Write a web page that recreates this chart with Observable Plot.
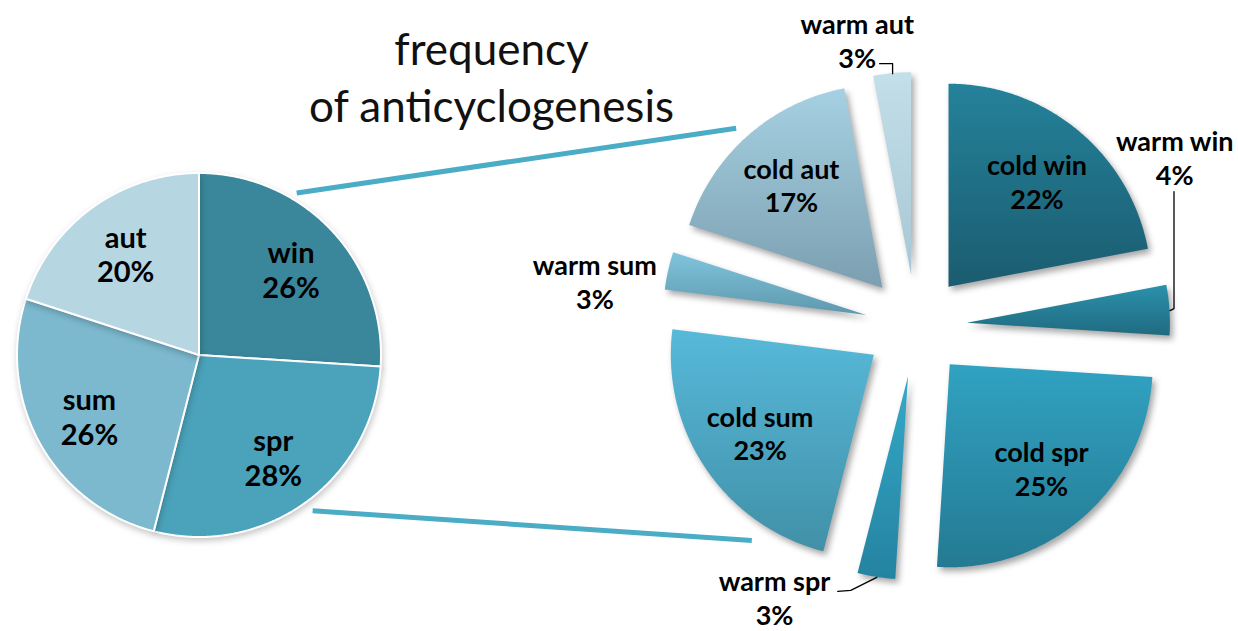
<!DOCTYPE html>
<html>
<head>
<meta charset="utf-8">
<script src="https://cdn.jsdelivr.net/npm/d3@7"></script>
<script src="https://cdn.jsdelivr.net/npm/@observablehq/plot@0.6"></script>
<style>
  body { margin: 0; background: #fff; }
  g[aria-description="season slice"] { filter: drop-shadow(1px 3px 3px rgba(0,0,0,0.22)); }
  g[aria-description="exploded slice"] { filter: drop-shadow(3px 4px 3px rgba(0,0,0,0.35)); }
</style>
</head>
<body>
<div id="chart"></div>
<script>
// ---------------- data ----------------
const seasons = ["win", "spr", "sum", "aut"];
const seasonShare = [26, 28, 26, 20];
const subCategories = ["cold win", "warm win", "cold spr", "warm spr", "cold sum", "warm sum", "cold aut", "warm aut"];
const subShare = [22, 4, 25, 3, 23, 3, 17, 3];
const titleLines = ["frequency", "of anticyclogenesis"];

// ---------------- styles / layout ----------------
const W = 1238, H = 631;
const FONT = "Lato, 'Open Sans', sans-serif";
const seasonColors = {win: "#3a879b", spr: "#4aa3bb", sum: "#7cb9cf", aut: "#b6d6e2"};
const subGradients = {
  "cold win": ["#24829a", "#1b5c70"],
  "warm win": ["#2b91ab", "#1f6b80"],
  "cold spr": ["#31a2c2", "#247a92"],
  "warm spr": ["#35a9c9", "#2483a0"],
  "cold sum": ["#57b9d9", "#4190a8"],
  "warm sum": ["#80c5dd", "#5e98ad"],
  "cold aut": ["#a6d1e2", "#7b9fb0"],
  "warm aut": ["#c3dfe9", "#a7c7d4"]
};
const layout = {
  left: {cx: 199, cy: 355, r: 182, labelAt: 0.69, fontSize: 29},
  right: {cx: 916, cy: 326, r: 203, explode: 51, labelAt: 0.68, fontSize: 27},
  title: {x: 491, y: 75, fontSize: 44, lineHeight: 1.3},
  // outside labels: angle (deg, clockwise from top) and distance (in radii) from right pie centre
  outside: {
    "warm aut": {angle: 348.3, dist: 1.44, leader: [[0, -10], [-13, -10]]},
    "warm win": {angle: 56.8, dist: 1.52, leader: [[4, -2], [4, -119]]},
    "warm sum": {angle: 278, dist: 1.60, leader: null},
    "warm spr": {angle: 207.65, dist: 1.507, leader: [[-26, 13], [-39, 14]]}
  },
  // connector lines: from left pie (angle, radii) to right pie (angle, radii)
  connectors: [
    {a0: 30.9, d0: 1.04, a1: 317.7, d1: 1.32},
    {a0: 143.9, d0: 1.055, a1: 217.6, d1: 1.33}
  ]
};

// ---------------- geometry helpers ----------------
const rad = (deg) => deg * Math.PI / 180;
function polar(cx, cy, r, a) { return [cx + r * Math.sin(a), cy - r * Math.cos(a)]; }
function pieSlices(names, values) {
  const total = d3.sum(values);
  let acc = 0;
  return names.map((name, i) => {
    const a0 = acc / total * 2 * Math.PI;
    acc += values[i];
    const a1 = acc / total * 2 * Math.PI;
    return {name, value: values[i], a0, a1, mid: (a0 + a1) / 2};
  });
}
function wedge(s, cx, cy, r) {
  const n = Math.max(4, Math.ceil((s.a1 - s.a0) / rad(0.5)));
  return d3.range(n + 1).map((k) => {
    const a = s.a0 + (s.a1 - s.a0) * k / n;
    const [x, y] = polar(cx, cy, r, a);
    return {x, y, cx, cy};
  });
}

const L = layout.left, R = layout.right;
const leftSlices = pieSlices(seasons, seasonShare).map((s) => {
  const [lx, ly] = polar(L.cx, L.cy, L.r * L.labelAt, s.mid);
  return {...s, cx: L.cx, cy: L.cy, lx, ly, label: `${s.name}\n${s.value}%`};
});
const rightSlices = pieSlices(subCategories, subShare).map((s) => {
  const [tx, ty] = polar(R.cx, R.cy, R.explode, s.mid);
  const [ax, ay] = polar(tx, ty, R.r, s.mid);
  let lx, ly;
  const out = layout.outside[s.name];
  if (out) { [lx, ly] = polar(R.cx, R.cy, R.r * out.dist, rad(out.angle)); }
  else { [lx, ly] = polar(tx, ty, R.r * R.labelAt, s.mid); }
  return {...s, cx: tx, cy: ty, ax, ay, lx, ly, outside: !!out, label: `${s.name}\n${s.value}%`};
});

const leaders = rightSlices.filter((s) => s.outside && layout.outside[s.name].leader).map((s) => {
  const pts = [{x: s.ax, y: s.ay}];
  for (const [dx, dy] of layout.outside[s.name].leader) pts.push({x: s.ax + dx, y: s.ay + dy});
  return pts;
});

const connectors = layout.connectors.map((c) => {
  const [x1, y1] = polar(L.cx, L.cy, L.r * c.d0, rad(c.a0));
  const [x2, y2] = polar(R.cx, R.cy, R.r * c.d1, rad(c.a1));
  return {x1, y1, x2, y2};
});

// gradient definitions
function defsMark() {
  const ns = "http://www.w3.org/2000/svg";
  const defs = document.createElementNS(ns, "defs");
  defs.innerHTML = subCategories.map((name, i) => {
    const [c0, c1] = subGradients[name];
    return `<linearGradient id="grad${i}" x1="0" y1="0" x2="0" y2="1">
      <stop offset="0" stop-color="${c0}"/><stop offset="1" stop-color="${c1}"/></linearGradient>`;
  }).join("");
  return defs;
}

const marks = [
  defsMark,
  ...leftSlices.map((s) => Plot.area(wedge(s, s.cx, s.cy, L.r), {
    x1: "cx", y1: "cy", x2: "x", y2: "y",
    fill: seasonColors[s.name], stroke: "white", strokeWidth: 2, strokeLinejoin: "round",
    ariaDescription: "season slice"
  })),
  ...rightSlices.map((s, i) => Plot.area(wedge(s, s.cx, s.cy, R.r), {
    x1: "cx", y1: "cy", x2: "x", y2: "y",
    fill: `url(#grad${i})`,
    ariaDescription: "exploded slice"
  })),
  Plot.link(connectors, {x1: "x1", y1: "y1", x2: "x2", y2: "y2", stroke: "#4bacc6", strokeWidth: 5, strokeLinecap: "butt"}),
  ...leaders.map((pts) => Plot.line(pts, {x: "x", y: "y", stroke: "black", strokeWidth: 1.3})),
  Plot.text(leftSlices, {x: "lx", y: "ly", text: "label", fontSize: L.fontSize, fontWeight: "bold",
    fontFamily: FONT, lineHeight: 1.2, fill: "black"}),
  Plot.text(rightSlices, {x: "lx", y: "ly", text: "label", fontSize: R.fontSize, fontWeight: "bold",
    fontFamily: FONT, lineHeight: 1.25, fill: "black"}),
  Plot.text([titleLines.join("\n")], {x: () => layout.title.x, y: () => layout.title.y, text: (d) => d,
    fontSize: layout.title.fontSize, lineHeight: layout.title.lineHeight, fontFamily: FONT, fill: "#111"})
];

const chart = Plot.plot({
  width: W, height: H,
  margin: 0,
  x: {domain: [0, W], range: [0, W], axis: null},
  y: {domain: [0, H], range: [0, H], axis: null},
  style: {background: "white", overflow: "visible"},
  marks
});
document.getElementById("chart").appendChild(chart);
</script>
</body>
</html>
